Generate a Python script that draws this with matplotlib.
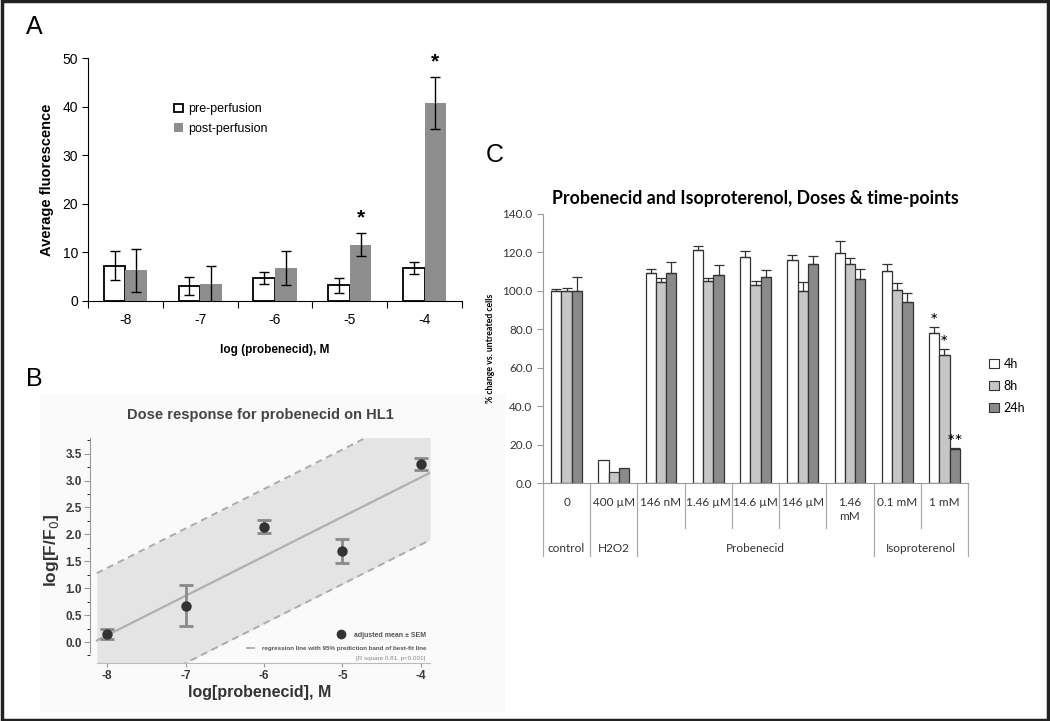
import numpy as np
import matplotlib.pyplot as plt
from matplotlib.patches import Rectangle, Patch
from matplotlib.lines import Line2D

W, H = 1050, 721


def box(x0, y0, x1, y1):
    # pixel box (left, top, right, bottom) -> figure fractions
    return [x0 / W, 1 - y1 / H, (x1 - x0) / W, (y1 - y0) / H]


# ---------------- data ----------------
# A: fluorescence before / after perfusion
a_doses = ['-8', '-7', '-6', '-5', '-4']
a_pre = [7.3, 3.1, 4.7, 3.2, 6.8]
a_pre_err = [2.9, 1.8, 1.3, 1.5, 1.2]
a_post = [6.3, 3.4, 6.7, 11.6, 40.7]
a_post_err = [4.5, 3.7, 3.5, 2.4, 5.3]
a_signif = [False, False, False, True, True]

# B: dose response
b_logdose = [-8, -7, -6, -5, -4]
b_mean = [0.15, 0.67, 2.14, 1.69, 3.31]
b_sem = [0.09, 0.38, 0.12, 0.22, 0.11]
b_band = 1.25          # half width of the prediction band
b_xrange = [-8.13, -3.885]

# C: viability, doses and time points
c_doses = ['0', '400 µM', '146 nM', '1.46 µM', '14.6 µM', '146 µM', '1.46\nmM', '0.1 mM', '1 mM']
c_groups = ['control', 'H2O2', 'Probenecid', 'Isoproterenol']
c_group_pos = [0, 1, 4, 7.5]
c_group_edges = [-0.5, 0.5, 1.5, 6.5, 8.5]
c_inner_edges = [2.5, 3.5, 4.5, 5.5, 7.5]
c_times = ['4h', '8h', '24h']
c_4h = [100.1, 11.8, 109.3, 121.3, 117.5, 116.1, 119.9, 110.2, 77.9]
c_4h_err = [0.9, 0, 2.3, 2.1, 3.3, 2.4, 5.9, 3.8, 3.1]
c_8h = [100.0, 5.9, 104.8, 105.3, 102.9, 99.9, 114.0, 100.6, 66.6]
c_8h_err = [1.5, 0, 2.1, 1.2, 2.4, 4.9, 2.9, 3.3, 3.0]
c_24h = [100.0, 8.0, 109.5, 108.3, 107.4, 114.0, 106.2, 94.2, 17.7]
c_24h_err = [7.4, 0, 5.5, 5.0, 3.5, 4.1, 5.0, 4.7, 0.3]
c_stars = {(8, 0): '*', (8, 1): '*', (8, 2): '**'}

plt.rcParams['axes.unicode_minus'] = False
fig = plt.figure(figsize=(W / 100, H / 100), dpi=100)

# ============ panel A ============
plt.rcParams['font.family'] = ['Liberation Sans', 'DejaVu Sans']
axA = fig.add_axes(box(88, 58, 462, 301))
xa = np.arange(len(a_doses))
bw = 0.29
axA.bar(xa - bw / 2, a_pre, bw, color='white', edgecolor='black', linewidth=1.3,
        label='pre-perfusion', zorder=2)
axA.bar(xa + bw / 2, a_post, bw, color='#8e8e8e', edgecolor='none',
        label='post-perfusion', zorder=2)
axA.errorbar(xa - bw / 2, a_pre, yerr=a_pre_err, fmt='none', ecolor='black',
             elinewidth=1, capsize=3.5, capthick=1, zorder=3)
axA.errorbar(xa + bw / 2, a_post, yerr=a_post_err, fmt='none', ecolor='black',
             elinewidth=1, capsize=3.5, capthick=1, zorder=3)
for i, s in enumerate(a_signif):
    if s:
        axA.text(xa[i] + bw / 2, a_post[i] + a_post_err[i] + 1.2, '*',
                 ha='center', va='bottom', fontsize=15, fontweight='bold')
axA.set_xlim(-0.5, len(a_doses) - 0.5)
axA.set_ylim(0, 50)
axA.set_yticks(range(0, 51, 10))
axA.set_xticks(np.arange(-0.5, len(a_doses), 1))
axA.set_xticklabels([])
axA.set_xticks(xa, minor=True)
axA.set_xticklabels(a_doses, minor=True)
axA.tick_params(axis='x', which='major', length=5, direction='out')
axA.tick_params(axis='x', which='minor', length=0, pad=9, labelsize=10)
axA.tick_params(axis='y', length=4, labelsize=10, pad=3)
for s in ['top', 'right']:
    axA.spines[s].set_visible(False)
axA.set_ylabel('Average fluorescence', fontsize=10.5, fontweight='bold', labelpad=6)
axA.set_xlabel('log (probenecid), M', fontsize=8.5, fontweight='bold', labelpad=12)
axA.legend(loc='upper left', bbox_to_anchor=(0.2, 0.86), frameon=False, fontsize=9,
           handlelength=0.7, handleheight=0.7, handletextpad=0.4, labelspacing=0.6)

# ============ panel B ============
fig.patches.append(Rectangle((40 / W, 1 - 712 / H), 465 / W, 317 / H,
                             transform=fig.transFigure, facecolor='#fafafa',
                             edgecolor='none', zorder=-5))
axB = fig.add_axes(box(90, 438, 430, 663))
axB.set_facecolor('none')
slope, icpt = np.polyfit(b_logdose, b_mean, 1)
xf = np.linspace(b_xrange[0], b_xrange[1], 50)
yf = slope * xf + icpt
axB.fill_between(xf, yf - b_band, yf + b_band, color='#e4e4e4', linewidth=0, zorder=1)
axB.plot(xf, yf + b_band, color='#acacac', lw=1.4, ls=(0, (3.5, 2.5)), zorder=2)
axB.plot(xf, yf - b_band, color='#acacac', lw=1.4, ls=(0, (3.5, 2.5)), zorder=2)
axB.plot(xf, yf, color='#b0b0b0', lw=1.6, zorder=2)
axB.errorbar(b_logdose, b_mean, yerr=b_sem, fmt='o', color='#333333', ms=6.5,
             ecolor='#8a8a8a', elinewidth=2, capsize=5, capthick=2, zorder=4)
axB.set_xlim(-8.217, -3.885)
axB.set_ylim(-0.39, 3.79)
axB.spines['top'].set_visible(False)
axB.spines['right'].set_visible(False)
axB.spines['left'].set_color('#999999')
axB.spines['bottom'].set_color('#bbbbbb')
axB.spines['left'].set_bounds(-0.2, 3.79)
axB.spines['bottom'].set_bounds(b_xrange[0], b_xrange[1])
axB.set_xticks(b_logdose)
axB.set_yticks(np.arange(0, 3.6, 0.5))
axB.set_yticks(np.arange(-0.25, 3.8, 0.25), minor=True)
axB.yaxis.set_major_formatter('{x:.1f}')
axB.tick_params(axis='both', colors='#999999', labelcolor='#3a3a3a', labelsize=8.5)
axB.tick_params(axis='y', length=4, pad=2)
axB.tick_params(axis='y', which='minor', length=2.5)
axB.tick_params(axis='x', length=3, pad=2)
for lab in axB.get_xticklabels() + axB.get_yticklabels():
    lab.set_fontweight('bold')
axB.set_title('Dose response for probenecid on HL1', fontsize=10.5, fontweight='bold',
              color='#444444', pad=14)
axB.set_ylabel('log[F/F$_0$]', fontsize=12.5, color='#333333', labelpad=3,
               fontweight='bold')
axB.set_xlabel('log[probenecid], M', fontsize=11.5, color='#333333', labelpad=2,
               fontweight='bold')
leg1 = axB.legend(handles=[Line2D([], [], marker='o', ls='none', color='#333333', ms=6)],
                  labels=['adjusted mean ± SEM'], loc='lower right',
                  bbox_to_anchor=(1.0, 0.09), frameon=False,
                  prop={'size': 5, 'weight': 'bold'}, handletextpad=0.8,
                  labelcolor='#555555', borderaxespad=0.2)
axB.add_artist(leg1)
axB.legend(handles=[Line2D([], [], color='#b0b0b0', lw=1.4)],
           labels=['regression line with 95% prediction band of best-fit line'],
           loc='lower right', bbox_to_anchor=(1.0, 0.035), frameon=False,
           prop={'size': 4.5, 'weight': 'bold'}, handlelength=1.2, handletextpad=1.2,
           labelcolor='#555555', borderaxespad=0.2)
axB.text(0.985, 0.02, '[R square 0.81, p<0.001]', transform=axB.transAxes,
         ha='right', va='center', fontsize=4.5, color='#888888')

# ============ panel C ============
cfont = ['Lato', 'DejaVu Sans']
axC = fig.add_axes(box(543, 214, 968, 483))
xc = np.arange(len(c_doses))
cw = 0.218
c_vals = [c_4h, c_8h, c_24h]
c_errs = [c_4h_err, c_8h_err, c_24h_err]
c_cols = ['white', '#c6c6c6', '#8a8a8a']
for k in range(3):
    pos = xc + (k - 1) * cw
    axC.bar(pos, c_vals[k], cw, color=c_cols[k], edgecolor='#333333', linewidth=0.9,
            label=c_times[k], zorder=2)
    e = np.array(c_errs[k])
    m = e > 0
    axC.errorbar(pos[m], np.array(c_vals[k])[m], yerr=[np.zeros(m.sum()), e[m]],
                 fmt='none', ecolor='#333333', elinewidth=0.9, capsize=3.5,
                 capthick=0.9, zorder=3)
for (i, k), s in c_stars.items():
    axC.text(xc[i] + (k - 1) * cw, c_vals[k][i] + c_errs[k][i] - 1.5, s, ha='center',
             va='bottom', fontsize=14, family=cfont)
axC.set_xlim(-0.5, len(c_doses) - 0.5)
axC.set_ylim(0, 140)
axC.set_yticks(range(0, 141, 20))
axC.yaxis.set_major_formatter('{x:.1f}')
axC.set_xticks([])
axC.set_xticks(xc, minor=True)
axC.set_xticklabels(c_doses, minor=True, family=cfont, fontsize=8.5, color='#333333',
                    linespacing=1.4)
axC.tick_params(axis='x', which='minor', length=0, pad=10)
axC.tick_params(axis='y', length=4, colors='#999999', labelcolor='#333333', labelsize=8.5)
for lab in axC.get_yticklabels():
    lab.set_family(cfont)
for s in ['top', 'right']:
    axC.spines[s].set_visible(False)
axC.spines['left'].set_color('#999999')
axC.spines['bottom'].set_color('#999999')
tr = axC.get_xaxis_transform()
for xe in c_group_edges:
    axC.plot([xe, xe], [0, -0.271], transform=tr, color='#aaaaaa', lw=0.9, clip_on=False)
for xe in c_inner_edges:
    axC.plot([xe, xe], [0, -0.167], transform=tr, color='#aaaaaa', lw=0.9, clip_on=False)
for g, p in zip(c_groups, c_group_pos):
    axC.text(p, -0.245, g, transform=tr, ha='center', va='center', fontsize=8.5,
             family=cfont, color='#333333')
axC.set_title('Probenecid and Isoproterenol, Doses & time-points', fontsize=12.8,
              fontweight='bold', family=cfont, pad=7)
axC.set_ylabel('% change vs. untreated cells', fontsize=6.3, family=cfont,
               fontweight='bold', labelpad=5)
fig.legend(handles=[Patch(facecolor=c, edgecolor='#333333', lw=0.8) for c in c_cols],
           labels=c_times, loc='center left', bbox_to_anchor=(978 / W, 1 - 386 / H),
           frameon=False, prop={'family': cfont, 'size': 9}, handlelength=0.75,
           handleheight=0.75, handletextpad=0.4, labelspacing=0.8)

# panel letters and frame
for letter, (px, py) in zip('ABC', [(34, 27), (34, 379), (495, 155)]):
    fig.text(px / W, 1 - py / H, letter, fontsize=18, ha='center', va='center',
             family=['Liberation Sans', 'DejaVu Sans'])
fig.patches.append(Rectangle((0.0015, 0.002), 0.997, 0.996, transform=fig.transFigure,
                             fill=False, edgecolor='#222222', lw=2.5))

fig.savefig('out.png', dpi=100, facecolor='white')
